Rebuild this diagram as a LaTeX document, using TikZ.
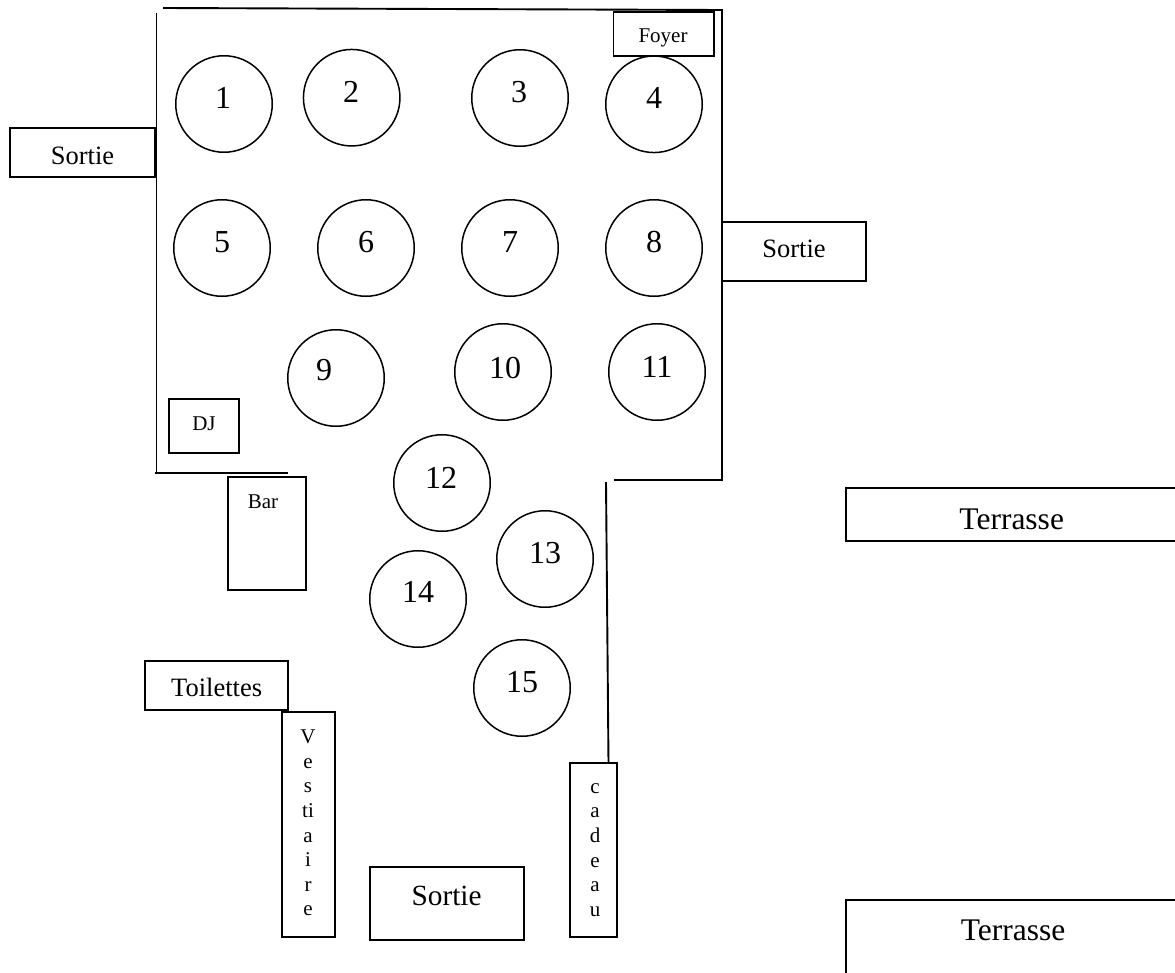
\documentclass[tikz,border=0pt]{standalone}
\usepackage{fontspec}
\setmainfont{Liberation Serif}
\usepackage{tikz}
\usetikzlibrary{positioning}

\begin{document}
\begin{tikzpicture}[x=1pt, y=-1pt,
    tbl/.style={draw, circle, line width=1.5pt, minimum size=96.5pt, inner sep=0pt},
    room/.style={draw, line width=1.9pt, inner sep=0pt},
    wall/.style={line width=1.9pt},
    num/.style={anchor=base, inner sep=0pt, font=\fontsize{32}{32}\selectfont},
    small/.style={anchor=base, inner sep=0pt, font=\fontsize{21}{21}\selectfont},
    mid/.style={anchor=base, inner sep=0pt, font=\fontsize{26.5}{26.5}\selectfont},
    big/.style={anchor=base, inner sep=0pt, font=\fontsize{31.5}{31.5}\selectfont},
    column/.style={inner sep=0pt, align=center, font=\fontsize{21}{24.6}\selectfont}]

    \clip (0,0) rectangle (1175,972);

    % Tables
    \node[tbl] (T1) at (224,104) {};
    \node[tbl] (T2) at (351.7,97.7) {};
    \node[tbl] (T3) at (520,98) {};
    \node[tbl] (T4) at (654,104.3) {};
    \node[tbl] (T5) at (222,248) {};
    \node[tbl] (T6) at (366,248) {};
    \node[tbl] (T7) at (510,248) {};
    \node[tbl] (T8) at (654,248) {};
    \node[tbl] (T9) at (336,378) {};
    \node[tbl] (T10) at (503,372) {};
    \node[tbl] (T11) at (657,372) {};
    \node[tbl] (T12) at (442,483) {};
    \node[tbl] (T13) at (545,559) {};
    \node[tbl] (T14) at (418,599) {};
    \node[tbl] (T15) at (522,688) {};

    % Table numbers
    \node[num] (N1) at (223,108) {1};
    \node[num] (N2) at (351,102) {2};
    \node[num] (N3) at (519,102) {3};
    \node[num] (N4) at (654,108) {4};
    \node[num] (N5) at (222,252) {5};
    \node[num] (N6) at (366,252) {6};
    \node[num] (N7) at (510,252) {7};
    \node[num] (N8) at (654,252) {8};
    \node[num] (N9) at (324,380) {9};
    \node[num] (N10) at (505,378) {10};
    \node[num] (N11) at (657,377) {11};
    \node[num] (N12) at (441,488) {12};
    \node[num] (N13) at (545,563) {13};
    \node[num] (N14) at (418,602) {14};
    \node[num] (N15) at (522,692) {15};

    % Rooms
    \node[room, minimum width=145pt, minimum height=49pt] (SortieA) at (82.5,152.5) {};
    \node[room, minimum width=100.5pt, minimum height=44pt] (Foyer) at (663.7,34) {};
    \node[room, minimum width=144pt, minimum height=59pt] (SortieB) at (794,251.5) {};
    \node[room, minimum width=70pt, minimum height=54pt] (DJ) at (204.3,426) {};
    \node[room, minimum width=78.3pt, minimum height=113.3pt] (Bar) at (266.8,533.3) {};
    \node[room, minimum width=143pt, minimum height=49pt] (Toilettes) at (216.5,685.5) {};
    \node[room, minimum width=52.7pt, minimum height=225pt] (Vestiaire) at (308.3,824.5) {};
    \node[room, minimum width=154pt, minimum height=73pt] (SortieC) at (446.7,903.5) {};
    \node[room, minimum width=47.3pt, minimum height=174pt] (Cadeau) at (593.6,850) {};
    \node[room, minimum width=354pt, minimum height=52.7pt] (TerrasseA) at (1023,514.3) {};
    \node[room, minimum width=354pt, minimum height=100pt] (TerrasseB) at (1023,950) {};

    % Room names
    \node[mid] (tSortieA) at (82.5,164) {Sortie};
    \node[small] (tFoyer) at (663,42.7) {Foyer};
    \node[mid] (tSortieB) at (794,257.3) {Sortie};
    \node[small] (tDJ) at (204,430) {DJ};
    \node[small] (tBar) at (263,508.3) {Bar};
    \node[mid] (tToilettes) at (216.6,696.7) {Toilettes};
    \node[column] (tVestiaire) at (308,823) {V\\e\\s\\ti\\a\\i\\r\\e};
    \node[big, font=\fontsize{29.3}{29.3}\selectfont] (tSortieC) at (446.6,905.7) {Sortie};
    \node[column] (tCadeau) at (595,850) {c\\a\\d\\e\\a\\u};
    \node[big] (tTerrasseA) at (1011.7,529.3) {Terrasse};
    \node[big] (tTerrasseB) at (1013,940.7) {Terrasse};

    % Walls
    \coordinate (topL) at (163,8);
    \coordinate (topR) at (722,10);
    \coordinate (leftT) at (156.5,13);
    \coordinate (leftB) at (156.5,473);
    \coordinate (lowL) at (155,473);
    \coordinate (lowR) at (288,473);
    \coordinate (rightB) at (722,480);
    \coordinate (stepL) at (614,480);
    \coordinate (aisleT) at (606,482);
    \coordinate (aisleB) at (608.5,763);
    \draw[wall] (topL) -- (topR) -- (rightB) -- (stepL);
    \draw[wall] (leftT) -- (leftB);
    \draw[wall] (lowL) -- (lowR);
    \draw[wall] (aisleT) -- (aisleB);

\end{tikzpicture}
\end{document}
